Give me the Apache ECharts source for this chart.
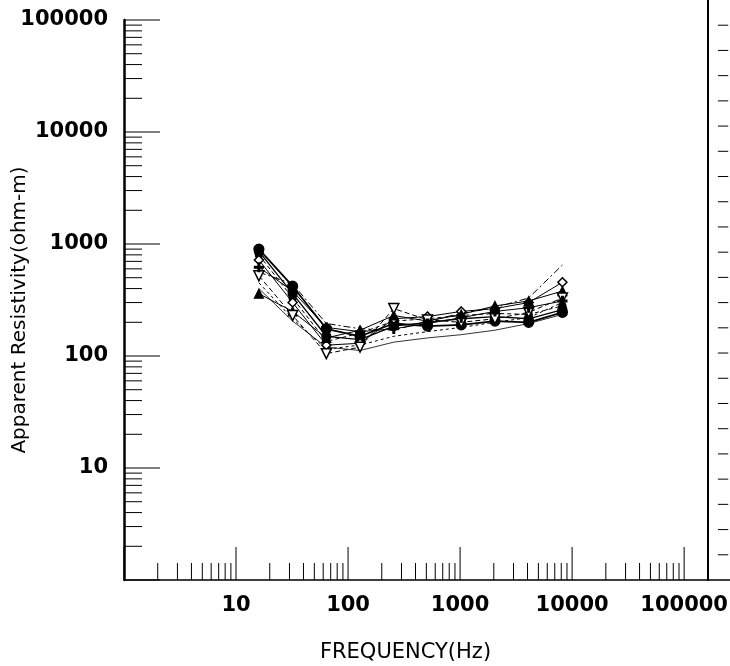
<!DOCTYPE html>
<html>
<head>
<meta charset="utf-8">
<script src="https://cdn.jsdelivr.net/npm/echarts@6/dist/echarts.min.js"></script>
<style>
  html, body { margin: 0; padding: 0; background: #fff; }
  #chart { width: 730px; height: 666px; }
</style>
</head>
<body>
<div id="chart"></div>
<script>
// Sounding frequencies (Hz)
const freqs = [16, 32, 64, 128, 256, 512, 1024, 2048, 4096, 8192];

// Apparent resistivity curves (ohm-m), one per station
const stA = [900, 420, 175, 150, 195, 185, 190, 205, 200, 245];
const stB = [860, 360, 150, 140, 185, 200, 215, 225, 215, 260];
const stC = [800, 330, 135, 160, 205, 215, 230, 240, 235, 280];
const stD = [720, 300, 125, 130, 215, 225, 250, 265, 300, 455];
const stE = [360, 250, 145, 170, 230, 205, 235, 280, 310, 380];
const stF = [520, 230, 105, 120, 265, 210, 200, 215, 245, 330];
const stG = [620, 380, 180, 165, 175, 195, 220, 250, 270, 310];
const stH = [560, 440, 195, 175, 170, 205, 240, 270, 330, 650];
const stI = [450, 215, 115, 125, 150, 165, 180, 200, 220, 300];
const stJ = [400, 205, 120, 112, 133, 145, 155, 170, 195, 235];

// Decade tick labels
const xTickLabels = [10, 100, 1000, 10000, 100000];
const yTickLabels = [10, 100, 1000, 10000, 100000];

// Tick positions on the neighbouring panel's axis
const sideTicks = [1, 2, 3, 4, 5, 6, 7, 8, 9, 10, 11, 12, 13, 14, 15, 16, 17, 18, 19, 20, 21, 22];

const LABEL_FONT = '"DejaVu Sans", "Liberation Sans", Arial, sans-serif';
const INK = '#000';

const pair = vals => freqs.map((f, i) => [f, vals[i]]);

// log-axis minor tick values (2..9 per decade)
function minorValues(fromExp, toExp) {
  const out = [];
  for (let e = fromExp; e < toExp; e++) {
    for (let m = 2; m <= 9; m++) out.push(m * Math.pow(10, e));
  }
  return out;
}
const xMinor = minorValues(0, 5);
const yMinor = minorValues(0, 5);
const xMajor = [1, 10, 100, 1000, 10000, 100000];
const yMajor = [1, 10, 100, 1000, 10000, 100000];

const plusPath = 'path://M4,0 L6,0 L6,4 L10,4 L10,6 L6,6 L6,10 L4,10 L4,6 L0,6 L0,4 L4,4 Z';

function station(name, vals, opts) {
  return Object.assign({
    name: name,
    type: 'line',
    xAxisIndex: 0,
    yAxisIndex: 0,
    data: pair(vals),
    symbol: 'none',
    symbolSize: 8,
    lineStyle: { color: INK, width: 1, type: 'solid' },
    itemStyle: { color: INK, borderColor: INK, borderWidth: 1.2 },
    emphasis: { disabled: true },
    animation: false,
    z: 5
  }, opts);
}

const chart = echarts.init(document.getElementById('chart'), null, { renderer: 'canvas' });

const option = {
  backgroundColor: '#fff',
  animation: false,
  grid: [
    { left: 124, right: 23, top: 20, bottom: 86, containLabel: false, outerBoundsMode: 'none' },
    { left: 708, right: 0, top: 0, bottom: 86, containLabel: false, outerBoundsMode: 'none' }
  ],
  xAxis: [
    {
      type: 'log', logBase: 10, min: 1, max: 160000, gridIndex: 0,
      axisLine: { show: true, lineStyle: { color: INK, width: 1.5 } },
      axisTick: { show: false },
      splitLine: { show: false },
      axisLabel: {
        margin: 15, color: INK, fontFamily: LABEL_FONT, fontSize: 21, fontWeight: 'bold',
        showMaxLabel: false,
        formatter: v => {
          const r = Math.round(v);
          return xTickLabels.indexOf(r) >= 0 ? String(r) : '';
        }
      },
      name: 'FREQUENCY(Hz)',
      nameLocation: 'middle',
      nameGap: 62,
      nameMoveOverlap: false,
      nameTextStyle: { color: INK, fontFamily: LABEL_FONT, fontSize: 21, padding: [0, 20, 0, 0] }
    },
    {
      type: 'value', min: 0, max: 1, gridIndex: 1,
      axisLine: { show: true, lineStyle: { color: INK, width: 1.5 } },
      axisTick: { show: false }, axisLabel: { show: false }, splitLine: { show: false }
    }
  ],
  yAxis: [
    {
      type: 'log', logBase: 10, min: 1, max: 100000, gridIndex: 0,
      axisLine: { show: true, lineStyle: { color: INK, width: 2.5 } },
      axisTick: { show: false },
      splitLine: { show: false },
      axisLabel: {
        margin: 16, color: INK, fontFamily: LABEL_FONT, fontSize: 21, fontWeight: 'bold',
        formatter: v => {
          const r = Math.round(v);
          return yTickLabels.indexOf(r) >= 0 ? String(r) : '';
        }
      },
      name: 'Apparent Resistivity(ohm-m)',
      nameLocation: 'middle',
      nameGap: 94,
      nameMoveOverlap: false,
      nameTextStyle: { color: INK, fontFamily: LABEL_FONT, fontSize: 20, padding: [0, 20, 0, 0] }
    },
    {
      type: 'value', min: 0, max: 23, gridIndex: 1,
      axisLine: { show: true, lineStyle: { color: INK, width: 2 } },
      axisTick: { show: false }, axisLabel: { show: false }, splitLine: { show: false }
    }
  ],
  series: [
    // log ticks drawn inward from both axes of the main panel
    {
      type: 'custom',
      xAxisIndex: 0, yAxisIndex: 0,
      data: [0],
      silent: true,
      animation: false,
      z: 3,
      renderItem: function (params, api) {
        const children = [];
        const add = (x1, y1, x2, y2) => children.push({
          type: 'line',
          shape: { x1: x1, y1: y1, x2: x2, y2: y2 },
          style: { stroke: INK, lineWidth: 1 }
        });
        xMinor.forEach(v => { const p = api.coord([v, 1]); add(p[0], p[1], p[0], p[1] - 17); });
        xMajor.forEach(v => { const p = api.coord([v, 1]); add(p[0], p[1], p[0], p[1] - 33); });
        yMinor.forEach(v => { const p = api.coord([1, v]); add(p[0], p[1], p[0] + 18, p[1]); });
        yMajor.forEach(v => { const p = api.coord([1, v]); add(p[0], p[1], p[0] + 36, p[1]); });
        return { type: 'group', children: children };
      }
    },
    // short dashes beside the neighbouring panel's axis
    {
      type: 'custom',
      xAxisIndex: 1, yAxisIndex: 1,
      data: sideTicks,
      silent: true,
      animation: false,
      renderItem: function (params, api) {
        const a = api.coord([0.45, api.value(0)]);
        const b = api.coord([0.92, api.value(0)]);
        return {
          type: 'line',
          shape: { x1: a[0], y1: a[1], x2: b[0], y2: b[1] },
          style: { stroke: INK, lineWidth: 1 }
        };
      }
    },
    station('A', stA, { symbol: 'circle', symbolSize: 10, lineStyle: { color: INK, width: 1.8 } }),
    station('B', stB, { symbol: 'circle', symbolSize: 9, lineStyle: { color: INK, width: 1.3 } }),
    station('C', stC, { symbol: 'circle', symbolSize: 7, lineStyle: { color: INK, width: 1, type: [4, 3] } }),
    station('D', stD, { symbol: 'diamond', symbolSize: 9, itemStyle: { color: '#fff', borderColor: INK, borderWidth: 1.5 } }),
    station('E', stE, { symbol: 'triangle', symbolSize: 9 }),
    station('F', stF, { symbol: 'triangle', symbolRotate: 180, symbolSize: 10,
      itemStyle: { color: '#fff', borderColor: INK, borderWidth: 1.5 },
      lineStyle: { color: INK, width: 1, type: [5, 3] } }),
    station('G', stG, { symbol: plusPath, symbolSize: 9 }),
    station('H', stH, { lineStyle: { color: INK, width: 1, type: [7, 3, 2, 3] } }),
    station('I', stI, { lineStyle: { color: INK, width: 1, type: [3, 3] } }),
    station('J', stJ, { lineStyle: { color: INK, width: 0.8 } })
  ]
};

chart.setOption(option);
</script>
</body>
</html>
